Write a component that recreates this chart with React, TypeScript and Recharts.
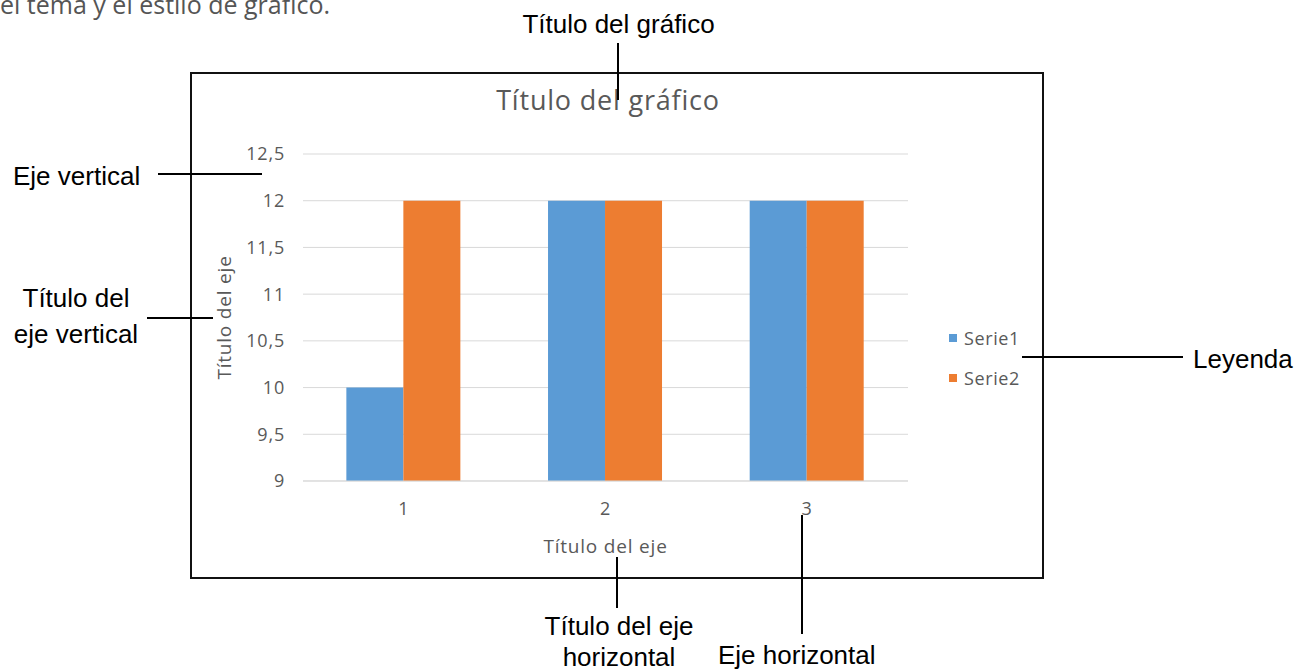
import React from 'react';
import { BarChart, Bar, XAxis, YAxis, CartesianGrid, Legend, Label } from 'recharts';

const categories = ['1', '2', '3'];
const serie1 = [10, 12, 12];
const serie2 = [12, 12, 12];
const yTicks = [9, 9.5, 10, 10.5, 11, 11.5, 12, 12.5];
const seriesNames = ['Serie1', 'Serie2'];
const seriesColors = ['#5B9BD5', '#ED7D31'];
const chartTitle = 'Título del gráfico';
const axisTitle = 'Título del eje';

const data = categories.map((c, i) => ({ cat: c, [seriesNames[0]]: serie1[i], [seriesNames[1]]: serie2[i] }));

const GRAY = '#595959';
const CHART_FONT = '"Open Sans", sans-serif';
const ANN_FONT = '"Liberation Sans", Arial, sans-serif';

const LegendContent = (props: any) => {
  const payload = props.payload || [];
  return (
    <div style={{ fontFamily: CHART_FONT }}>
      {payload.map((p: any, i: number) => (
        <div key={i} style={{ display: 'flex', alignItems: 'center', height: 20, marginTop: i === 0 ? 0 : 20 }}>
          <div style={{ width: 8, height: 8, background: p.color }} />
          <span style={{ marginLeft: 7, fontSize: 18, letterSpacing: 0.6, color: GRAY, lineHeight: '20px' }}>{p.value}</span>
        </div>
      ))}
    </div>
  );
};

const fmt = (v: number) => String(v).replace('.', ',');

export default function App() {
  return (
    <div style={{ position: 'absolute', left: 0, top: 0, width: 1305, height: 669, overflow: 'hidden', background: '#fff' }}>
      <div style={{ position: 'absolute', left: 0, top: 0, fontFamily: CHART_FONT }}>
        <BarChart
          width={1305}
          height={669}
          data={data}
          margin={{ top: 154, right: 397, bottom: 108, left: 223 }}
          barCategoryGap="21.5%"
          barGap={0}
        >
          <CartesianGrid vertical={false} stroke="#D9D9D9" strokeWidth={1} />
          <XAxis
            dataKey="cat"
            height={80}
            axisLine={{ stroke: '#D9D9D9' }}
            tickLine={false}
            tickSize={0}
            tickMargin={21}
            tick={{ fontSize: 18, fill: GRAY, letterSpacing: 0.8 }}
          >
            <Label value={axisTitle} position="insideBottom" offset={8}
              style={{ fontSize: 19, fill: GRAY, letterSpacing: 0.8, fontFamily: CHART_FONT }} />
          </XAxis>
          <YAxis
            width={80}
            domain={[9, 12.5]}
            ticks={yTicks}
            interval={0}
            axisLine={false}
            tickLine={false}
            tickSize={0}
            tickMargin={18}
            tickFormatter={fmt}
            tick={{ fontSize: 18, fill: GRAY, letterSpacing: 0.8 }}
          >
            <Label value={axisTitle} angle={-90} position="insideLeft" offset={1}
              style={{ fontSize: 19, fill: GRAY, letterSpacing: 0.8, textAnchor: 'middle', fontFamily: CHART_FONT }} />
          </YAxis>
          <Legend
            layout="vertical"
            align="center"
            verticalAlign="middle"
            content={<LegendContent />}
            wrapperStyle={{ left: 949, top: 328, width: 90 }}
          />
          <Bar dataKey={seriesNames[0]} name={seriesNames[0]} fill={seriesColors[0]} isAnimationActive={false} />
          <Bar dataKey={seriesNames[1]} name={seriesNames[1]} fill={seriesColors[1]} isAnimationActive={false} />
        </BarChart>
      </div>
      <svg width={1305} height={669} style={{ position: 'absolute', left: 0, top: 0, pointerEvents: 'none' }}>
        <text x={0} y={14} fontFamily={CHART_FONT} fontSize={25} fill="#555">el tema y el estilo de gráfico.</text>
        <rect x={191} y={73} width={852} height={505} fill="none" stroke="#111" strokeWidth={2} />
        <text x={608} y={110} textAnchor="middle" fontFamily={CHART_FONT} fontSize={27} fill={GRAY} letterSpacing={0.8}>{chartTitle}</text>
        <g fontFamily={ANN_FONT} fontSize={26} fill="#000">
          <text x={618.5} y={33} textAnchor="middle">Título del gráfico</text>
          <text x={13} y={185}>Eje vertical</text>
          <text x={76} y={307} textAnchor="middle">Título del</text>
          <text x={76} y={343} textAnchor="middle">eje vertical</text>
          <text x={1193} y={368}>Leyenda</text>
          <text x={619} y={635} textAnchor="middle">Título del eje</text>
          <text x={619} y={666} textAnchor="middle">horizontal</text>
          <text x={718} y={664}>Eje horizontal</text>
        </g>
        <g stroke="#000" strokeWidth={2}>
          <line x1={618} y1={43} x2={618} y2={100} />
          <line x1={158} y1={174} x2={262} y2={174} />
          <line x1={147} y1={318} x2={213} y2={318} />
          <line x1={1022} y1={357} x2={1183} y2={357} />
          <line x1={617} y1={557} x2={617} y2={608} />
          <line x1={802} y1={515} x2={802} y2={634} />
        </g>
      </svg>
    </div>
  );
}
